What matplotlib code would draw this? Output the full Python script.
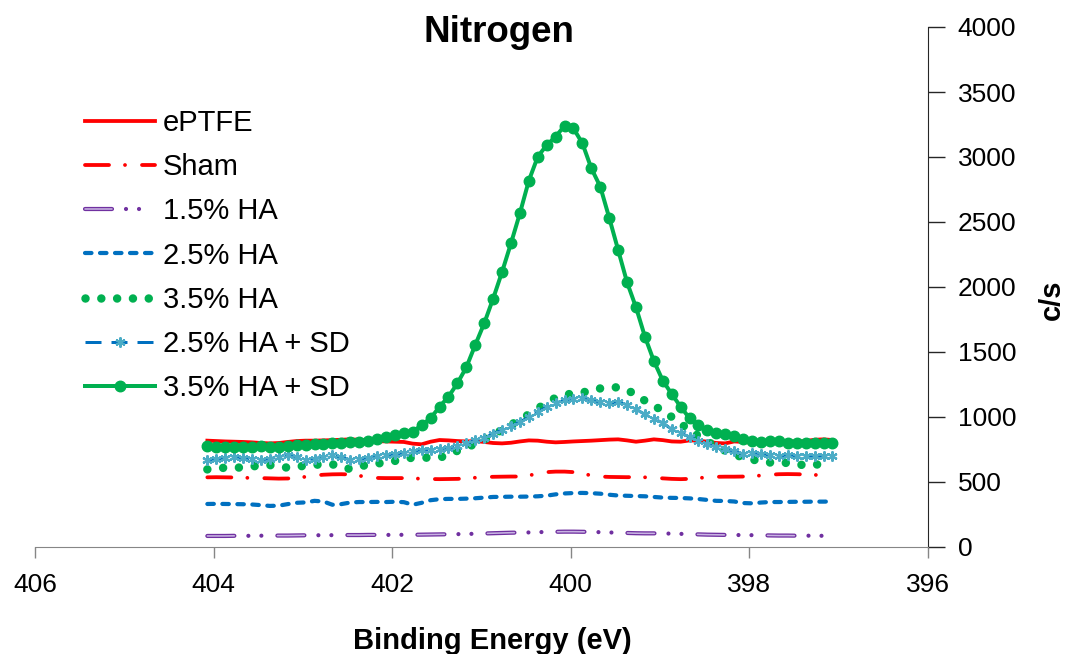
import matplotlib
matplotlib.use("Agg")
import matplotlib.pyplot as plt
from matplotlib.legend_handler import HandlerTuple
import numpy as np

plt.rcParams['font.family'] = 'Liberation Sans'
plt.rcParams['lines.scale_dashes'] = False

# Binding energy grid (eV) and counts per second for each sample
energy = [404.07, 403.97, 403.87, 403.77, 403.67, 403.57, 403.47, 403.37, 403.27, 403.17,
          403.07, 402.97, 402.87, 402.77, 402.67, 402.57, 402.47, 402.37, 402.27, 402.17,
          402.07, 401.97, 401.87, 401.77, 401.67, 401.57, 401.47, 401.37, 401.27, 401.17,
          401.07, 400.97, 400.87, 400.77, 400.67, 400.57, 400.47, 400.37, 400.27, 400.17,
          400.07, 399.97, 399.87, 399.77, 399.67, 399.57, 399.47, 399.37, 399.27, 399.17,
          399.07, 398.97, 398.87, 398.77, 398.67, 398.57, 398.47, 398.37, 398.27, 398.17,
          398.07, 397.97, 397.87, 397.77, 397.67, 397.57, 397.47, 397.37, 397.27, 397.17, 397.07]

eptfe = [818, 815, 812, 810, 808, 805, 800, 797, 800, 808,
         815, 818, 818, 820, 822, 825, 828, 825, 820, 815,
         812, 810, 808, 795, 790, 810, 823, 820, 815, 812,
         815, 808, 800, 797, 802, 812, 820, 818, 810, 805,
         808, 812, 815, 818, 822, 826, 828, 820, 810, 818,
         828, 822, 812, 810, 820, 818, 810, 800, 797, 812,
         808, 802, 808, 815, 818, 815, 810, 815, 825, 828, 823]

sham = [536, 537, 536, 535, 533, 531, 530, 528, 526, 527,
        532, 540, 550, 556, 559, 560, 558, 548, 538, 531,
        530, 530, 530, 528, 525, 523, 522, 523, 524, 528,
        533, 538, 540, 541, 542, 542, 550, 565, 576, 580,
        580, 576, 565, 550, 542, 539, 538, 537, 538, 536,
        533, 528, 524, 522, 524, 530, 537, 540, 541, 541,
        542, 545, 550, 556, 560, 561, 560, 558, 555, 550, 546]

ha15 = [85, 85, 85, 86, 86, 86, 87, 87, 88, 88,
        89, 90, 90, 91, 91, 92, 92, 92, 93, 93,
        93, 93, 94, 94, 95, 96, 97, 98, 99, 100,
        102, 104, 106, 108, 110, 111, 112, 114, 116, 117,
        118, 118, 117, 116, 114, 112, 110, 108, 106, 105,
        105, 104, 103, 101, 99, 97, 95, 94, 93, 92,
        92, 91, 90, 89, 88, 88, 87, 87, 87, 86, 86]

ha25 = [331, 332, 331, 330, 329, 327, 322, 316, 318, 330,
        340, 343, 355, 350, 325, 330, 342, 346, 346, 347,
        346, 348, 345, 325, 340, 360, 368, 370, 370, 372,
        375, 380, 385, 386, 387, 387, 388, 390, 395, 405,
        412, 415, 416, 414, 410, 402, 396, 394, 392, 390,
        385, 380, 378, 377, 374, 369, 362, 355, 354, 350,
        338, 336, 342, 346, 346, 347, 348, 348, 349, 349, 350]

ha35 = [597, 604, 610, 610, 612, 620, 626, 630, 620, 610,
        618, 625, 632, 636, 636, 615, 600, 620, 632, 640,
        655, 662, 678, 687, 687, 687, 687, 710, 740, 770,
        790, 825, 865, 900, 940, 980, 1020, 1065, 1110, 1148,
        1168, 1184, 1190, 1200, 1220, 1228, 1228, 1205, 1175, 1125,
        1085, 1050, 1000, 950, 895, 855, 810, 775, 740, 710,
        690, 672, 662, 650, 644, 648, 640, 625, 632, 641, 645]

ha25_sd = [669, 678, 684, 690, 688, 675, 669, 680, 692, 705,
           695, 672, 680, 692, 705, 690, 670, 675, 685, 700,
           708, 712, 722, 735, 746, 750, 755, 760, 775, 797,
           820, 840, 870, 902, 928, 962, 1000, 1040, 1075, 1108,
           1128, 1142, 1145, 1132, 1112, 1108, 1115, 1095, 1060, 1020,
           985, 955, 905, 878, 845, 818, 790, 770, 755, 735,
           716, 725, 718, 708, 700, 706, 702, 698, 698, 700, 700]

ha35_sd = [775, 770, 772, 770, 768, 772, 775, 770, 772, 778,
           782, 785, 790, 795, 798, 800, 805, 810, 818, 830,
           848, 862, 875, 887, 938, 990, 1079, 1156, 1259, 1382,
           1554, 1720, 1910, 2115, 2336, 2567, 2818, 3002, 3092, 3156,
           3241, 3220, 3105, 2913, 2772, 2533, 2285, 2036, 1844, 1618,
           1431, 1280, 1177, 1079, 990, 938, 900, 879, 869, 855,
           830, 815, 810, 812, 815, 800, 797, 797, 797, 797, 802]

px = 0.72  # points per pixel at 100 dpi

fig = plt.figure(figsize=(10.7, 6.54), dpi=100)
ax = fig.add_axes([35 / 1070, 1 - 547 / 654, 893 / 1070, 520 / 654])

l1, = ax.plot(energy, eptfe, color='#FF0000', lw=3.8 * px, label='ePTFE')
l2, = ax.plot(energy, sham, color='#FF0000', lw=3.8 * px, dash_capstyle='round',
              dashes=(24 * px, 16 * px, 0.01, 17 * px), label='Sham')
# purple dash-dot-dot drawn as a double line: dark outline with a light core on the dashes
l3a, = ax.plot(energy, ha15, color='#7030A0', lw=4.2 * px, dash_capstyle='round',
               dashes=(27 * px, 14 * px, 0.01, 13 * px, 0.01, 16 * px))
l3b, = ax.plot(energy, ha15, color='#C8B4E2', lw=1.6 * px, dash_capstyle='round',
               dashes=(27 * px, 43.02 * px))
l4, = ax.plot(energy, ha25, color='#0070C0', lw=4.2 * px, dash_capstyle='round',
              dashes=(6.5 * px, 8.5 * px), label='2.5% HA')
l5, = ax.plot(energy, ha35, color='#00B050', lw=8.5 * px, dash_capstyle='round',
              dashes=(0.01, 15.8 * px), label='3.5% HA')
l6, = ax.plot(energy, ha25_sd, color='#0070C0', lw=3 * px, dashes=(16 * px, 10 * px),
              marker=(6, 2, 0), ms=10 * px, mew=2.2 * px, mec='#4BACC6', mfc='#4BACC6',
              label='2.5% HA + SD')
l7, = ax.plot(energy, ha35_sd, color='#00B050', lw=4 * px, marker='o', ms=10.5 * px,
              mec='#00B050', mfc='#00B050', label='3.5% HA + SD')

ax.set_xlim(406, 396)
ax.set_ylim(0, 4000)
ax.set_xticks([406, 404, 402, 400, 398, 396])
ax.set_yticks(range(0, 4001, 500))

ax.spines['top'].set_visible(False)
ax.spines['left'].set_visible(False)
ax.spines['bottom'].set_color('#868686')
ax.spines['right'].set_color('#262626')
ax.yaxis.tick_right()
ax.tick_params(axis='x', direction='out', length=8, width=1, color='#868686',
               labelsize=19, pad=11, labelcolor='black')
ax.tick_params(axis='y', direction='out', length=12, width=1, color='#262626',
               labelsize=19, pad=9.5, labelcolor='black')

fig.text(499 / 1070, 1 - 32 / 654, 'Nitrogen', ha='center', va='center',
         fontsize=26.5, fontweight='bold')
fig.text(492 / 1070, 1 - 641 / 654, 'Binding Energy (eV)', ha='center', va='center',
         fontsize=21, fontweight='bold')
fig.text(1052 / 1070, 1 - 300 / 654, 'c/s', ha='center', va='center', rotation=90,
         fontsize=21, fontweight='bold')

fig.legend([l1, l2, (l3a, l3b), l4, l5, l6, l7],
           ['ePTFE', 'Sham', '1.5% HA', '2.5% HA', '3.5% HA', '2.5% HA + SD', '3.5% HA + SD'],
           handler_map={tuple: HandlerTuple(ndivide=1)},
           loc='upper left', bbox_to_anchor=(85 / 1070, 1 - 109 / 654),
           frameon=False, fontsize=21, handlelength=2.4, handletextpad=0.27,
           labelspacing=0.555, borderpad=0, borderaxespad=0)

fig.savefig('out.png', dpi=100)
